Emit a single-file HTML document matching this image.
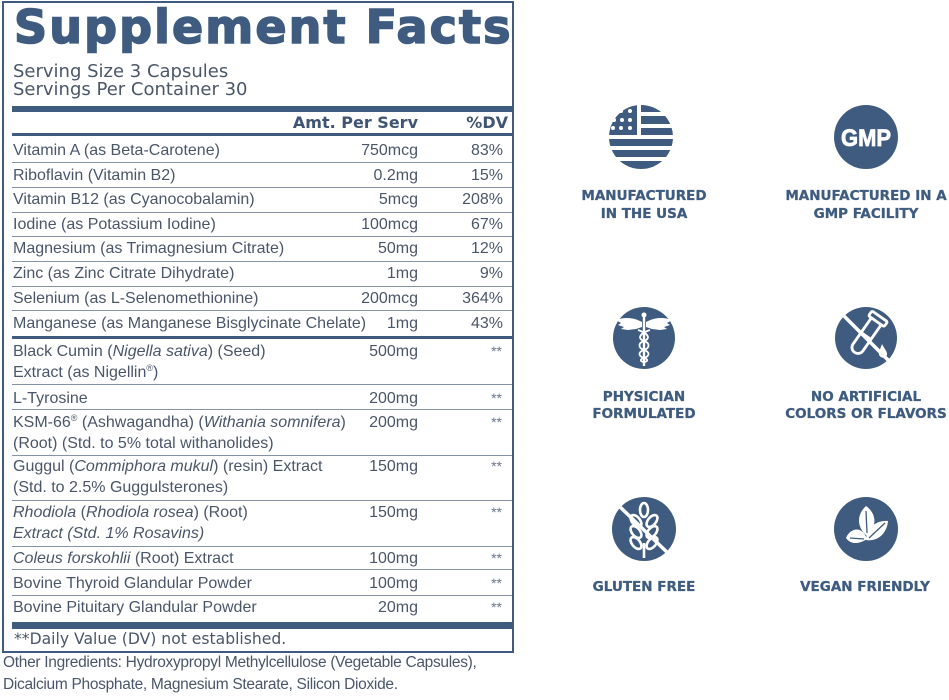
<!DOCTYPE html>
<html>
<head>
<meta charset="utf-8">
<style>
  html,body{margin:0;padding:0;}
  body{width:949px;height:700px;background:#ffffff;position:relative;overflow:hidden;}
  .t{position:absolute;white-space:nowrap;line-height:1;}
  .r{font-family:"Liberation Sans",sans-serif;font-size:16px;color:#4a5669;}
  .n{left:13px;}
  .a{right:531px;text-align:right;}
  .d{right:446px;text-align:right;}
  .s{right:447px;text-align:right;font-size:14px;color:#6a7789;}
  .ln{position:absolute;left:12px;width:500px;height:1px;background:#8493a8;}
  .bar{position:absolute;left:12px;width:500px;background:#3f5c80;}
  .lab{position:absolute;width:220px;text-align:center;font-family:"DejaVu Sans",sans-serif;font-weight:bold;font-size:13.5px;line-height:1;color:#3f5c80;white-space:nowrap;-webkit-text-stroke:0.3px #3f5c80;}
  sup{font-size:9px;vertical-align:6px;line-height:0;}
</style>
</head>
<body>

<!-- box border -->
<div style="position:absolute;left:2px;top:1px;width:508px;height:648px;border:2px solid #3f5c80;"></div>

<!-- title -->
<div class="t" style="left:14px;top:4px;font-family:'DejaVu Sans',sans-serif;font-weight:bold;font-size:46px;letter-spacing:2.1px;color:#3f5c80;-webkit-text-stroke:1.6px #3f5c80;">Supplement Facts</div>
<div class="t" style="left:13px;top:62.8px;font-family:'DejaVu Sans',sans-serif;font-size:18px;color:#4a5669;">Serving Size 3 Capsules</div>
<div class="t" style="left:13px;top:80.8px;font-family:'DejaVu Sans',sans-serif;font-size:18px;color:#4a5669;">Servings Per Container 30</div>

<div class="bar" style="top:106px;height:6px;"></div>

<div class="t" style="right:531px;top:114.5px;font-family:'DejaVu Sans',sans-serif;font-weight:bold;font-size:16px;color:#3f5573;">Amt. Per Serv</div>
<div class="t" style="right:441px;top:114.5px;font-family:'DejaVu Sans',sans-serif;font-weight:bold;font-size:16px;color:#3f5573;">%DV</div>

<div class="bar" style="top:133px;height:3px;"></div>

<!-- rows -->
<div class="t r n" style="top:142.5px;">Vitamin A (as Beta-Carotene)</div>
<div class="t r a" style="top:142.5px;">750mcg</div>
<div class="t r d" style="top:142.5px;">83%</div>
<div class="ln" style="top:162px;"></div>

<div class="t r n" style="top:167.5px;">Riboflavin (Vitamin B2)</div>
<div class="t r a" style="top:167.5px;">0.2mg</div>
<div class="t r d" style="top:167.5px;">15%</div>
<div class="ln" style="top:187px;"></div>

<div class="t r n" style="top:192px;">Vitamin B12 (as Cyanocobalamin)</div>
<div class="t r a" style="top:192px;">5mcg</div>
<div class="t r d" style="top:192px;">208%</div>
<div class="ln" style="top:212px;"></div>

<div class="t r n" style="top:216.5px;">Iodine (as Potassium Iodine)</div>
<div class="t r a" style="top:216.5px;">100mcg</div>
<div class="t r d" style="top:216.5px;">67%</div>
<div class="ln" style="top:236px;"></div>

<div class="t r n" style="top:241px;">Magnesium (as Trimagnesium Citrate)</div>
<div class="t r a" style="top:241px;">50mg</div>
<div class="t r d" style="top:241px;">12%</div>
<div class="ln" style="top:261px;"></div>

<div class="t r n" style="top:265.5px;">Zinc (as Zinc Citrate Dihydrate)</div>
<div class="t r a" style="top:265.5px;">1mg</div>
<div class="t r d" style="top:265.5px;">9%</div>
<div class="ln" style="top:286px;"></div>

<div class="t r n" style="top:291px;">Selenium (as L-Selenomethionine)</div>
<div class="t r a" style="top:291px;">200mcg</div>
<div class="t r d" style="top:291px;">364%</div>
<div class="ln" style="top:310px;"></div>

<div class="t r n" style="top:315.5px;">Manganese (as Manganese Bisglycinate Chelate)</div>
<div class="t r a" style="top:315.5px;">1mg</div>
<div class="t r d" style="top:315.5px;">43%</div>
<div class="bar" style="top:336px;height:3px;"></div>

<div class="t r n" style="top:343.5px;">Black Cumin (<i>Nigella sativa</i>) (Seed)</div>
<div class="t r n" style="top:364.5px;">Extract (as Nigellin<sup>®</sup>)</div>
<div class="t r a" style="top:343.5px;">500mg</div>
<div class="t r s" style="top:343.5px;">**</div>
<div class="ln" style="top:384px;"></div>

<div class="t r n" style="top:390.5px;">L-Tyrosine</div>
<div class="t r a" style="top:390.5px;">200mg</div>
<div class="t r s" style="top:390.5px;">**</div>
<div class="ln" style="top:409px;"></div>

<div class="t r n" style="top:414.5px;">KSM-66<sup>®</sup> (Ashwagandha) (<i>Withania somnifera</i>)</div>
<div class="t r n" style="top:435.5px;">(Root) (Std. to 5% total withanolides)</div>
<div class="t r a" style="top:414.5px;">200mg</div>
<div class="t r s" style="top:414.5px;">**</div>
<div class="ln" style="top:455px;"></div>

<div class="t r n" style="top:458.5px;">Guggul (<i>Commiphora mukul</i>) (resin) Extract</div>
<div class="t r n" style="top:479.5px;">(Std. to 2.5% Guggulsterones)</div>
<div class="t r a" style="top:458.5px;">150mg</div>
<div class="t r s" style="top:458.5px;">**</div>
<div class="ln" style="top:500px;"></div>

<div class="t r n" style="top:504.5px;"><i>Rhodiola</i> (<i>Rhodiola rosea</i>) (Root)</div>
<div class="t r n" style="top:525.5px;"><i>Extract (Std. 1% Rosavins)</i></div>
<div class="t r a" style="top:504.5px;">150mg</div>
<div class="t r s" style="top:504.5px;">**</div>
<div class="ln" style="top:546px;"></div>

<div class="t r n" style="top:550.5px;"><i>Coleus forskohlii</i> (Root) Extract</div>
<div class="t r a" style="top:550.5px;">100mg</div>
<div class="t r s" style="top:550.5px;">**</div>
<div class="ln" style="top:569px;"></div>

<div class="t r n" style="top:575.5px;">Bovine Thyroid Glandular Powder</div>
<div class="t r a" style="top:575.5px;">100mg</div>
<div class="t r s" style="top:575.5px;">**</div>
<div class="ln" style="top:595px;"></div>

<div class="t r n" style="top:599.5px;">Bovine Pituitary Glandular Powder</div>
<div class="t r a" style="top:599.5px;">20mg</div>
<div class="t r s" style="top:599.5px;">**</div>

<div class="bar" style="top:622px;height:7px;"></div>

<div class="t" style="left:14px;top:631.8px;font-family:'DejaVu Sans',sans-serif;font-size:15.6px;color:#4a5669;">**Daily Value (DV) not established.</div>

<div class="t" style="left:3px;top:654.9px;font-family:'Liberation Sans',sans-serif;font-size:15.5px;letter-spacing:-0.3px;color:#4a5669;">Other Ingredients: Hydroxypropyl Methylcellulose (Vegetable Capsules),</div>
<div class="t" style="left:3px;top:676.9px;font-family:'Liberation Sans',sans-serif;font-size:15.5px;letter-spacing:-0.3px;color:#4a5669;">Dicalcium Phosphate, Magnesium Stearate, Silicon Dioxide.</div>

<!-- icons -->
<svg style="position:absolute;left:0;top:0;" width="949" height="700" viewBox="0 0 949 700">
  <defs>
    <clipPath id="fc"><circle cx="641" cy="137" r="32"/></clipPath>
  </defs>
  <!-- flag -->
  <g clip-path="url(#fc)" fill="#3f5c80">
    <rect x="607" y="103" width="30" height="32"/>
    <rect x="641" y="103" width="36" height="9"/>
    <rect x="641" y="116" width="36" height="8"/>
    <rect x="641" y="128" width="36" height="7"/>
    <rect x="605" y="139" width="72" height="7"/>
    <rect x="605" y="150" width="72" height="7"/>
    <rect x="605" y="161" width="72" height="9"/>
  </g>
  <g fill="#ffffff">
    <circle cx="621" cy="111" r="2"/><circle cx="630" cy="111" r="2"/>
    <circle cx="614" cy="120" r="2"/><circle cx="622" cy="120" r="2"/><circle cx="630" cy="120" r="2"/>
    <circle cx="613" cy="128" r="2"/><circle cx="621" cy="128" r="2"/><circle cx="630" cy="128" r="2"/>
  </g>

  <!-- GMP -->
  <circle cx="866" cy="137" r="32" fill="#3f5c80"/>
  <text x="841" y="146" textLength="50" lengthAdjust="spacingAndGlyphs" font-family="Liberation Sans, sans-serif" font-weight="bold" font-size="24" fill="#ffffff" stroke="#ffffff" stroke-width="0.8">GMP</text>

  <!-- caduceus -->
  <circle cx="644" cy="338" r="31" fill="#3f5c80"/>
  <g fill="#ffffff">
    <circle cx="644" cy="315" r="2.5"/>
    <rect x="642.8" y="316" width="2.4" height="50"/>
    <path d="M642 322 C633 317 624 317 616 320 L621 323 L618 325 L624 327 L621 329 L628 330 L636 329 L642 327 Z"/>
    <path d="M646 322 C655 317 664 317 672 320 L667 323 L670 325 L664 327 L667 329 L660 330 L652 329 L646 327 Z"/>
  </g>
  <g fill="none" stroke="#ffffff" stroke-width="1.8">
    <path d="M638 330 C650 334 650 339 644 341 C638 343 638 348 644 350 C650 352 650 356 644 358 C640 359 640 361 643 362"/>
    <path d="M650 330 C638 334 638 339 644 341 C650 343 650 348 644 350 C638 352 638 356 644 358 C648 359 648 361 645 362"/>
  </g>

  <!-- no artificial -->
  <circle cx="866" cy="338" r="31" fill="#3f5c80"/>
  <g transform="rotate(35 866 336)" fill="none" stroke="#ffffff" stroke-width="2.8">
    <path d="M860 318 L860 350 A6 6 0 0 0 872 350 L872 318"/>
    <rect x="856.5" y="312" width="19" height="6" rx="1.5"/>
    <line x1="860" y1="336" x2="872" y2="336"/>
  </g>
  <path d="M882 344 C885 350 889 353 886 357 C883 359 878 357 879 352 C880 349 881 347 882 344 Z" fill="#ffffff"/>
  <line x1="840" y1="312" x2="892" y2="364" stroke="#ffffff" stroke-width="3.5"/>

  <!-- gluten free -->
  <circle cx="644" cy="529" r="32" fill="#3f5c80"/>
  <g fill="#3f5c80" stroke="#ffffff" stroke-width="2.6">
    <ellipse cx="644" cy="510" rx="4" ry="7"/>
    <ellipse cx="636" cy="521" rx="4" ry="7" transform="rotate(-40 636 521)"/>
    <ellipse cx="652" cy="521" rx="4" ry="7" transform="rotate(40 652 521)"/>
    <ellipse cx="636" cy="532" rx="4" ry="7" transform="rotate(-40 636 532)"/>
    <ellipse cx="652" cy="532" rx="4" ry="7" transform="rotate(40 652 532)"/>
    <ellipse cx="636" cy="543" rx="4" ry="7" transform="rotate(-40 636 543)"/>
    <ellipse cx="652" cy="543" rx="4" ry="7" transform="rotate(40 652 543)"/>
  </g>
  <rect x="642.7" y="543" width="2.6" height="15" fill="#ffffff"/>
  <line x1="618" y1="505" x2="672" y2="557" stroke="#ffffff" stroke-width="3.5"/>

  <!-- vegan -->
  <circle cx="866" cy="529" r="32" fill="#3f5c80"/>
  <g fill="#ffffff">
    <path d="M866 506 C876 513 878 526 867 536 C856 527 857 514 866 506 Z"/>
    <path d="M846 538 C850 528 862 525 867 539 C858 545 850 544 846 538 Z"/>
    <path d="M866 540 C867 527 877 520 888 521 C887 533 878 542 866 540 Z"/>
  </g>
  <g fill="none" stroke="#3f5c80" stroke-width="1.3">
    <path d="M866 511 L867 533"/>
    <path d="M850 538 L864 539"/>
    <path d="M869 538 L885 523"/>
  </g>
</svg>

<!-- labels -->
<div class="lab" style="left:534px;top:190.1px;">MANUFACTURED</div>
<div class="lab" style="left:534px;top:208.1px;">IN THE USA</div>
<div class="lab" style="left:756px;top:190.1px;">MANUFACTURED IN A</div>
<div class="lab" style="left:756px;top:208.1px;">GMP FACILITY</div>

<div class="lab" style="left:534px;top:390.6px;">PHYSICIAN</div>
<div class="lab" style="left:534px;top:407.6px;">FORMULATED</div>
<div class="lab" style="left:756px;top:390.6px;">NO ARTIFICIAL</div>
<div class="lab" style="left:756px;top:407.6px;">COLORS OR FLAVORS</div>

<div class="lab" style="left:534px;top:580.6px;">GLUTEN FREE</div>
<div class="lab" style="left:755px;top:580.6px;">VEGAN FRIENDLY</div>

</body>
</html>
